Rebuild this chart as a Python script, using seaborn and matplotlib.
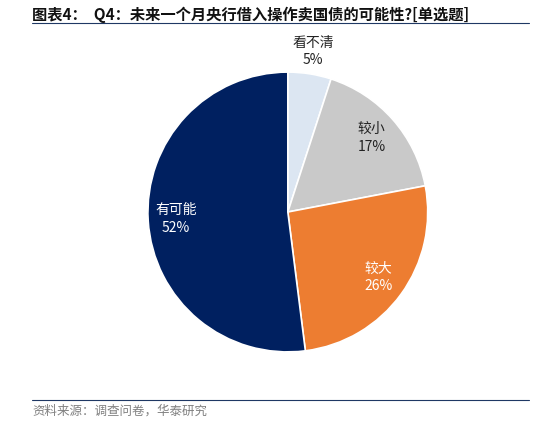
import matplotlib.pyplot as plt
import seaborn as sns
from matplotlib.lines import Line2D

sns.set_theme(style="white")
plt.rcParams['font.family'] = ['Noto Sans CJK SC', 'DejaVu Sans']

labels = ["看不清", "较小", "较大", "有可能"]
values = [5, 17, 26, 52]
colors = ["#dce6f2", "#c9c9c9", "#ed7d31", "#002060"]
text_colors = ["#222222", "#222222", "white", "white"]

fig = plt.figure(figsize=(5.34, 4.24), dpi=100)
ax = fig.add_axes([0.277, 0.17, 0.524, 0.66])

wedges, texts, autotexts = ax.pie(
    values, colors=colors, startangle=90, counterclock=False,
    autopct="%1.0f%%", pctdistance=0.8,
    wedgeprops=dict(edgecolor="white", linewidth=1.2))
for i, t in enumerate(autotexts):
    t.set_text(f"{labels[i]}\n{values[i]}%")
    t.set_color(text_colors[i])
    t.set_fontsize(10)
    t.set_linespacing(1.3)
    t.set_clip_on(False)
# small slice label sits outside the pie
x, y = autotexts[0].get_position()
autotexts[0].set_position((x * 1.45, y * 1.45))
ax.set_xlim(-1, 1)
ax.set_ylim(-1, 1)
ax.set_aspect("equal")

fig.text(0.06, 0.965, "图表4：  Q4：未来一个月央行借入操作卖国债的可能性?[单选题]",
         fontsize=11, fontweight="bold", color="#111111", va="center")
fig.add_artist(Line2D([0.06, 0.99], [0.945, 0.945], color="#1f3864", lw=0.8))
fig.add_artist(Line2D([0.06, 0.99], [0.057, 0.057], color="#1f3864", lw=0.8))
fig.text(0.06, 0.03, "资料来源：调查问卷，华泰研究", fontsize=9, color="#808080", va="center")

fig.savefig("out.png", dpi=100)
